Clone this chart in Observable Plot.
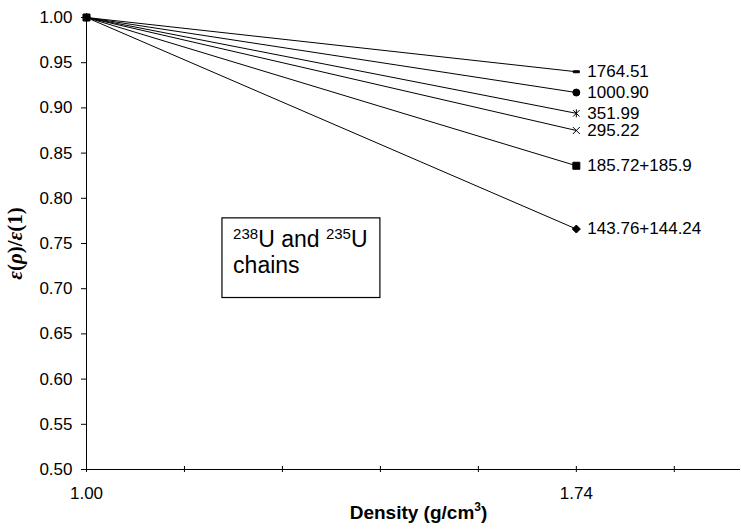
<!DOCTYPE html>
<html><head><meta charset="utf-8">
<script src="https://cdn.jsdelivr.net/npm/d3@7"></script>
<script src="https://cdn.jsdelivr.net/npm/@observablehq/plot@0.6"></script>
<style>
body{margin:0;background:#fff;}
#chart svg{display:block;}
</style></head><body><div id="chart"></div>
<script>
// ---- data ----
const seriesLabels = ["1764.51", "1000.90", "351.99", "295.22", "185.72+185.9", "143.76+144.24"];
const densities = [1.00, 1.74];
const ratioAtDensity100 = [1.000, 1.000, 1.000, 1.000, 1.000, 1.000];
const ratioAtDensity174 = [0.940, 0.917, 0.894, 0.875, 0.836, 0.766];
const xTicks = [1.00, 1.148, 1.296, 1.444, 1.592, 1.74, 1.888];
const xTickLabels = [1.00, 1.74];
const yTicks = [0.50, 0.55, 0.60, 0.65, 0.70, 0.75, 0.80, 0.85, 0.90, 0.95, 1.00];
const xDomain = [1.0, 1.988];
const yDomain = [0.5, 1.0];
const xTitle = "Density (g/cm3)";
const yTitle = "ε(ρ)/ε(1)";
const noteLines = ["238U and 235U", "chains"];
const noteX = [1.2215, 1.2215];
const noteY = [0.7545, 0.7255];
const noteBox = [{x1: 1.2054, x2: 1.444, y1: 0.6897, y2: 0.7778}];

// ---- table ----
const rows = [];
seriesLabels.forEach((s, i) => {
  rows.push({series: s, x: densities[0], y: ratioAtDensity100[i]});
  rows.push({series: s, x: densities[1], y: ratioAtDensity174[i]});
});
const ends = rows.filter(d => d.x === densities[1]);

// ---- marker shapes ----
const dash = {draw(c) { c.rect(-3, -1, 6, 2); }};
const circ = {draw(c) { c.moveTo(3.5, 0); c.arc(0, 0, 3.5, 0, 2 * Math.PI); }};
const aster = {draw(c) { c.moveTo(-3.2, -3.2); c.lineTo(3.2, 3.2); c.moveTo(-3.2, 3.2); c.lineTo(3.2, -3.2); c.moveTo(0, -4); c.lineTo(0, 4); }};
const times = {draw(c) { c.moveTo(-3.5, -3.5); c.lineTo(3.5, 3.5); c.moveTo(-3.5, 3.5); c.lineTo(3.5, -3.5); }};
const sq = {draw(c) { c.rect(-3.5, -3.5, 7, 7); }};
const diam = {draw(c) { c.moveTo(0, -4); c.lineTo(4, 0); c.lineTo(0, 4); c.lineTo(-4, 0); c.closePath(); }};

const ink = "#000";
const plot = Plot.plot({
  width: 741, height: 532,
  marginLeft: 86, marginRight: 1, marginTop: 17, marginBottom: 63,
  style: {fontFamily: "'Liberation Sans', Arial, sans-serif", fontSize: "17px", color: ink, background: "#fff"},
  x: {domain: xDomain},
  y: {domain: yDomain},
  symbol: {domain: seriesLabels, range: [dash, circ, aster, times, sq, diam]},
  marks: [
    Plot.rect(noteBox, {x1: "x1", x2: "x2", y1: "y1", y2: "y2", fill: "none", stroke: ink, strokeWidth: 1.2}),
    Plot.text(noteLines, {x: (d, i) => noteX[i], y: (d, i) => noteY[i], text: d => d, textAnchor: "start", fontSize: 23}),
    Plot.ruleX([xDomain[0]], {stroke: ink}),
    Plot.ruleY([yDomain[0]], {stroke: ink}),
    Plot.axisY({ticks: yTicks, tickSize: 5, tickPadding: 9, tickFormat: d => d.toFixed(2), label: null}),
    Plot.axisX({ticks: xTicks, tickSize: 6, dy: -3, tickFormat: () => "", label: null}),
    Plot.axisX({ticks: xTickLabels, tickSize: 0, tickPadding: 17, tickFormat: d => d.toFixed(2), label: null}),
    Plot.line(rows, {x: "x", y: "y", z: "series", stroke: ink, strokeWidth: 1}),
    Plot.dot(rows, {x: "x", y: "y", symbol: "series", fill: ink, stroke: ink, strokeWidth: 1}),
    Plot.text(ends, {x: "x", y: "y", text: "series", dx: 11, textAnchor: "start", fontSize: 17}),
    Plot.text([xTitle], {frameAnchor: "bottom", dy: 49, dx: 5, text: d => d, fontWeight: "bold", fontSize: 19}),
    Plot.text([yTitle], {x: xDomain[0], y: (yDomain[0] + yDomain[1]) / 2, dx: -71, rotate: -90, text: d => d, textAnchor: "middle", fontWeight: "bold", fontSize: 21, fontFamily: "'Liberation Serif', 'Times New Roman', serif"})
  ]
});
document.getElementById("chart").appendChild(plot);

// rich text (superscripts / italics) built with DOM tspans
const NS = "http://www.w3.org/2000/svg";
function richText(el, parts) {
  while (el.firstChild) el.removeChild(el.firstChild);
  parts.forEach(([str, attrs]) => {
    const t = document.createElementNS(NS, "tspan");
    Object.entries(attrs || {}).forEach(([k, v]) => t.setAttribute(k, v));
    t.textContent = str;
    el.appendChild(t);
  });
}
const svg = d3.select(plot);
const byText = t => svg.selectAll("text").filter(function () { return this.textContent === t; });
const line1 = byText(noteLines[0]).node();
const line2 = byText(noteLines[1]).node();
richText(line1, [["238", {"font-size": "15px", dy: -8}], ["U and ", {dy: 8}], ["235", {"font-size": "15px", dy: -8}], ["U", {dy: 8}]]);
// keep both note lines left-aligned
const shift = line2.getBBox().x - line1.getBBox().x;
if (Math.abs(shift) > 0.5) line1.setAttribute("x", shift);
byText(xTitle).each(function () {
  richText(this, [["Density (g/cm", {}], ["3", {"font-size": "12px", dy: -8}], [")", {dy: 8}]]);
});
byText(yTitle).each(function () {
  richText(this, [["ε", {"font-style": "italic"}], ["(", {}], ["ρ", {"font-style": "italic"}], [")/", {}], ["ε", {"font-style": "italic"}], ["(1)", {}]]);
});
</script></body></html>
